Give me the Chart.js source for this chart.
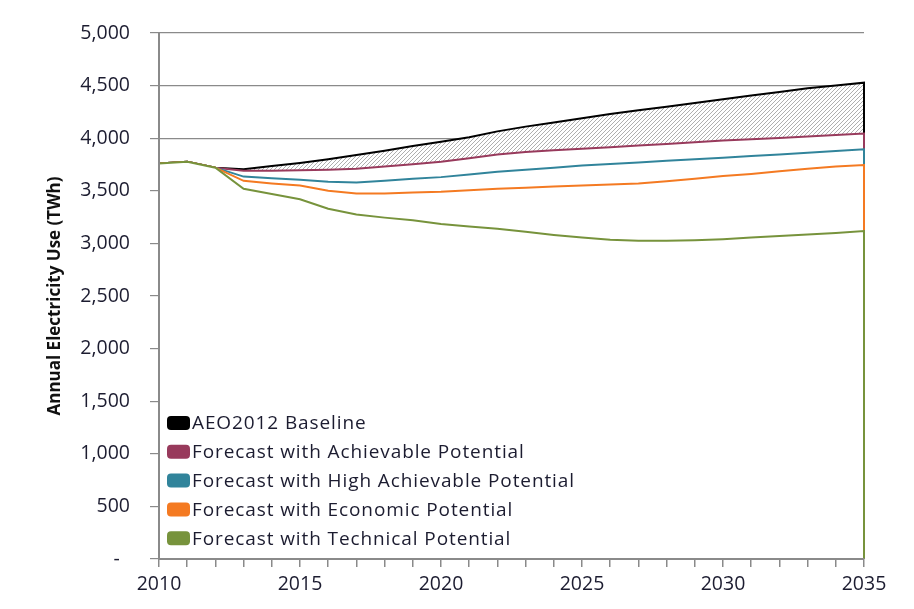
<!DOCTYPE html>
<html>
<head>
<meta charset="utf-8">
<script src="https://cdn.jsdelivr.net/npm/chart.js@4"></script>
<style>
  body { margin: 0; background: #fff; }
  #wrap { width: 914px; height: 609px; }
</style>
</head>
<body>
<div id="wrap"><canvas id="myChart" width="914" height="609"></canvas></div>
<script>
// years on the x axis
var years = [2010, 2011, 2012, 2013, 2014, 2015, 2016, 2017, 2018, 2019, 2020, 2021, 2022,
             2023, 2024, 2025, 2026, 2027, 2028, 2029, 2030, 2031, 2032, 2033, 2034, 2035];

// annual electricity use, TWh
var baseline   = [3760, 3775, 3720, 3705, 3735, 3765, 3800, 3840, 3880, 3925, 3967, 4010, 4065,
                  4110, 4150, 4190, 4230, 4265, 4300, 4335, 4370, 4405, 4440, 4474, 4500, 4528];
var achievable = [3760, 3775, 3720, 3690, 3690, 3695, 3700, 3710, 3730, 3752, 3777, 3810, 3845,
                  3868, 3885, 3900, 3915, 3930, 3945, 3962, 3978, 3990, 4003, 4016, 4030, 4045];
var highAchiev = [3760, 3775, 3720, 3635, 3620, 3605, 3585, 3580, 3595, 3615, 3630, 3655, 3680,
                  3700, 3720, 3740, 3755, 3770, 3785, 3800, 3815, 3830, 3845, 3862, 3878, 3895];
var economic   = [3760, 3775, 3720, 3595, 3570, 3550, 3500, 3475, 3475, 3485, 3490, 3505, 3520,
                  3530, 3540, 3550, 3560, 3570, 3590, 3615, 3640, 3660, 3685, 3710, 3730, 3745];
var technical  = [3760, 3775, 3720, 3520, 3470, 3420, 3330, 3275, 3245, 3220, 3185, 3160, 3140,
                  3110, 3080, 3055, 3035, 3025, 3025, 3030, 3040, 3055, 3070, 3085, 3100, 3118];

var seriesNames = ['AEO2012 Baseline',
                   'Forecast with Achievable Potential',
                   'Forecast with High Achievable Potential',
                   'Forecast with Economic Potential',
                   'Forecast with Technical Potential'];
var seriesColors = ['#000000', '#983a5c', '#31849b', '#f47a22', '#77933c'];

var FONT = '"Open Sans", Lato, sans-serif';
var GRAY = '#8a8a8a';
var TEXT = '#1c1c30';

// hatch for the gap between baseline and achievable
function makeHatch() {
    var c = document.createElement('canvas');
    c.width = 4; c.height = 4;
    var g = c.getContext('2d');
    g.fillStyle = '#ffffff';
    g.fillRect(0, 0, 4, 4);
    g.strokeStyle = '#9a9a9a';
    g.lineWidth = 0.8;
    g.beginPath();
    g.moveTo(0, 4); g.lineTo(4, 0);
    g.moveTo(-1, 1); g.lineTo(1, -1);
    g.moveTo(3, 5); g.lineTo(5, 3);
    g.stroke();
    return g.createPattern(c, 'repeat');
}

// area series: closes down to zero at the last year like the spreadsheet area chart
function toPoints(vals) {
    var pts = [];
    for (var i = 0; i < years.length; i++) {
        pts.push({x: years[i], y: vals[i]});
    }
    pts.push({x: years[years.length - 1], y: 0});
    return pts;
}

var allSeries = [baseline, achievable, highAchiev, economic, technical];
var datasets = [];
for (var i = 0; i < allSeries.length; i++) {
    datasets.push({
        label: seriesNames[i],
        data: toPoints(allSeries[i]),
        borderColor: seriesColors[i],
        borderWidth: 2,
        backgroundColor: i == 0 ? makeHatch() : '#ffffff',
        fill: 'origin',
        pointRadius: 0,
        tension: 0,
        order: allSeries.length - i   // baseline painted first, technical on top
    });
}

// legend drawn inside the plot, bottom left
var insideLegend = {
    id: 'insideLegend',
    afterDraw: function(chart) {
        var c = chart.ctx;
        var area = chart.chartArea;
        c.save();
        c.font = '19px ' + FONT;
        c.letterSpacing = '0.9px';
        c.textBaseline = 'middle';
        c.textAlign = 'left';
        for (var i = 0; i < seriesNames.length; i++) {
            var cy = area.bottom - 136 + i * 28.8;
            var bx = area.left + 8;
            c.fillStyle = seriesColors[i];
            c.beginPath();
            c.roundRect(bx, cy - 7, 23, 14, 4);
            c.fill();
            c.fillStyle = TEXT;
            c.fillText(seriesNames[i], bx + 25, cy + 1);
        }
        c.restore();
    }
};

var ctx = document.getElementById('myChart').getContext('2d');
var myChart = new Chart(ctx, {
    type: 'line',
    data: { datasets: datasets },
    plugins: [insideLegend],
    options: {
        responsive: false,
        animation: false,
        layout: { padding: { top: 33, right: 50, left: 0, bottom: 0 } },
        plugins: {
            legend: { display: false },
            tooltip: { enabled: false }
        },
        scales: {
            x: {
                type: 'linear',
                afterFit: function(s) { s.height = 50; },
                grid: { drawOnChartArea: false, drawTicks: true, tickLength: 8, color: GRAY, lineWidth: 1.5 },
                border: { color: GRAY, width: 2, z: 1 },
                ticks: {
                    stepSize: 1,
                    autoSkip: false,
                    maxRotation: 0,
                    padding: 6,
                    color: TEXT,
                    font: { family: FONT, size: 19.5 },
                    callback: function(v) { return v % 5 == 0 ? String(v) : ''; }
                }
            },
            y: {
                min: 0,
                max: 5000,
                afterFit: function(s) { s.width = 159; },
                grid: { color: GRAY, tickLength: 9, lineWidth: 1.2 },
                border: { color: GRAY, width: 2, z: 1 },
                ticks: {
                    stepSize: 500,
                    padding: 20,
                    color: TEXT,
                    font: { family: FONT, size: 19.5 },
                    callback: function(v) { return v == 0 ? '-  ' : v.toLocaleString('en-US'); }
                },
                title: {
                    display: true,
                    text: 'Annual Electricity Use (TWh)',
                    color: '#111111',
                    font: { family: FONT, size: 17, weight: 'bold' },
                    padding: { top: 45, bottom: 0 }
                }
            }
        }
    }
});
</script>
</body>
</html>
